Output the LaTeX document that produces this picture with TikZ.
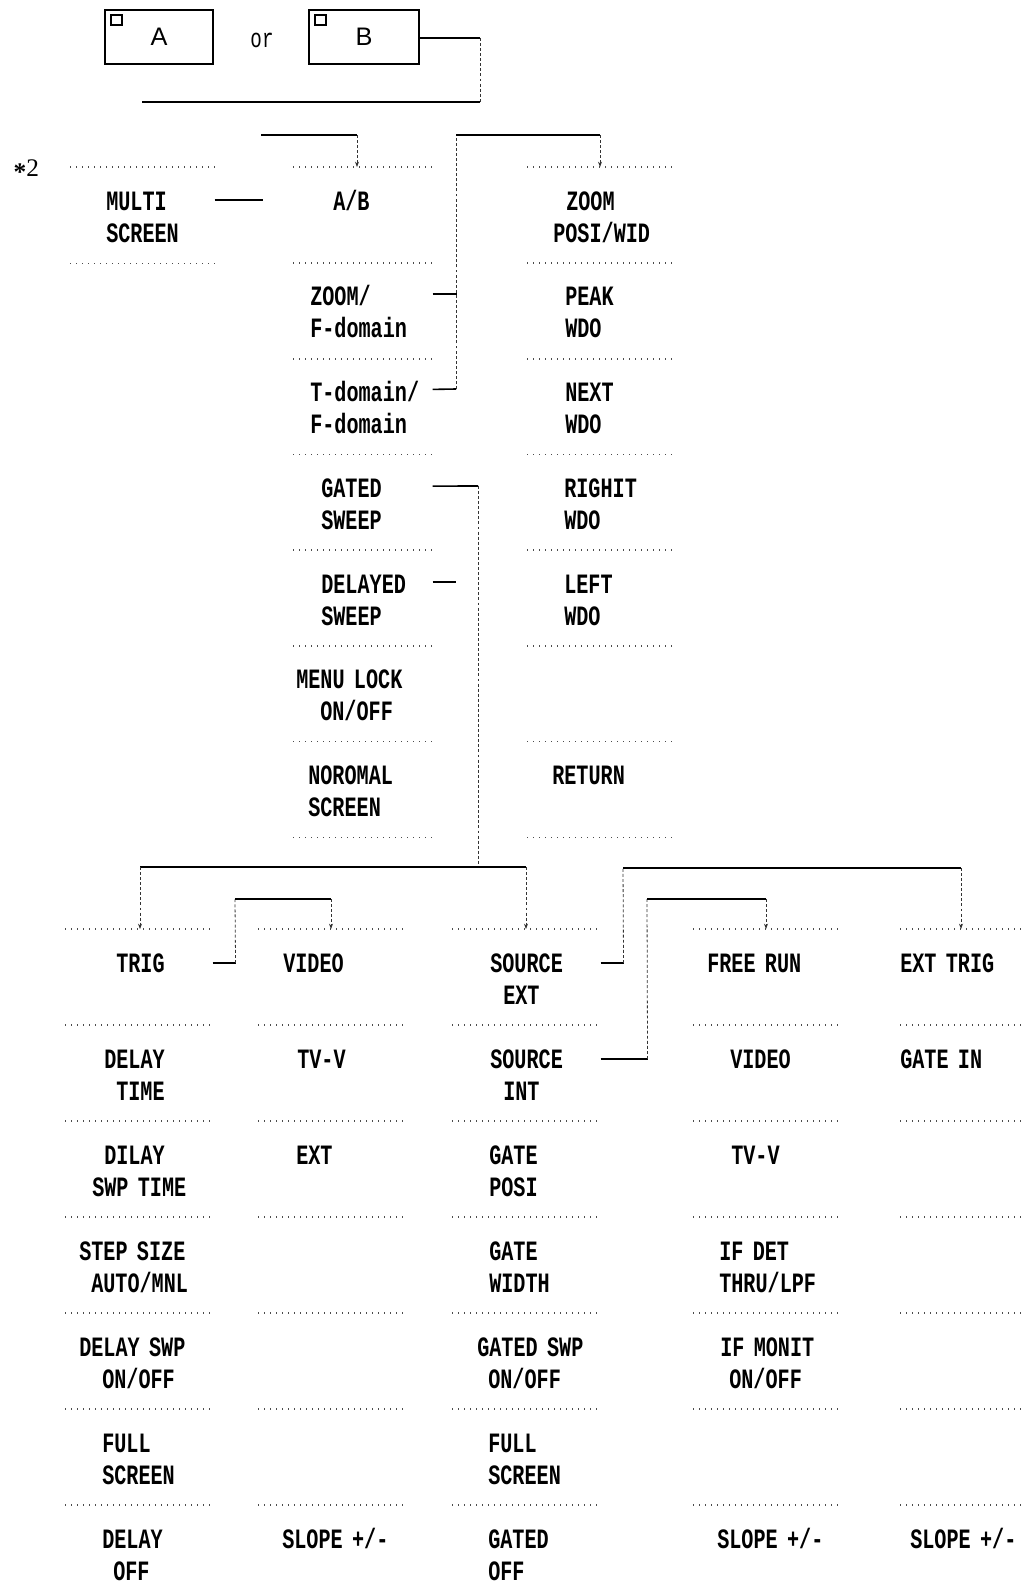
\documentclass[tikz,border=0pt]{standalone}
\usepackage{fontspec}
\usetikzlibrary{positioning,calc,arrows.meta}
\newfontfamily\menufont[FakeStretch=0.72]{Liberation Mono}
\newfontfamily\notefont{Liberation Serif}
\newfontfamily\keyfont{Liberation Sans}
\newlength\pxu
\setlength\pxu{0.75pt}
\newcommand{\lpad}[1]{\hspace*{#1\pxu}}

\begin{document}
\begin{tikzpicture}[x=0.75pt, y=-0.75pt,
  cell/.style={rectangle, anchor=north west, inner sep=0pt, align=left,
               text height=16.7pt, text depth=24pt,
               font=\menufont\bfseries\fontsize{21}{24}\selectfont},
  up/.style={cell, minimum height=71.8pt},
  lo/.style={cell, minimum height=72pt},
  key/.style={draw, line width=1.5pt, inner sep=0pt, minimum height=40.5pt,
              font=\keyfont\fontsize{19}{22}\selectfont},
  sep/.style={line width=0.8pt, dash pattern=on 0.8pt off 3.7pt, black!70},
  link/.style={line width=1.2pt},
  drop/.style={line width=0.6pt, dash pattern=on 2.2pt off 1.6pt, black!80},
  tip/.style={-{Stealth[length=4pt,width=3pt]}}]

\path[fill=white] (0,0) rectangle (1022,1595);
\useasboundingbox (0,0) rectangle (1022,1595);

% key boxes
\node[key, minimum width=81pt] (keya) at (159,37) {A};
\node[key, minimum width=82.5pt] (keyb) at (364,37) {B};
\draw[line width=1.1pt] ($(keya.north west)+(7,6)$) rectangle ++(11,10);
\draw[line width=1.1pt] ($(keyb.north west)+(7,6)$) rectangle ++(11,10);
\node[anchor=base, font=\menufont\fontsize{20}{22}\selectfont] (or) at (262,48) {or};
\node[anchor=base west, font=\notefont\fontsize{19}{22}\selectfont] (note) at (9,176) {\raisebox{-3pt}{\bfseries *}2};

% upper menus
\node[up, text width=108pt] (multi) at (70,167) {\lpad{36}MULTI\\\lpad{36}SCREEN};

\node[up, text width=104.25pt] (ab) at (293,167) {\lpad{40}A/B};
\node[up, text width=104.25pt] (zoomf) at (293,262.7) {\lpad{17}ZOOM/\\\lpad{17}F-domain};
\node[up, text width=104.25pt] (tdom) at (293,358.4) {\lpad{17}T-domain/\\\lpad{17}F-domain};
\node[up, text width=104.25pt] (gated) at (293,454.1) {\lpad{28}GATED\\\lpad{28}SWEEP};
\node[up, text width=104.25pt] (delayed) at (293,549.8) {\lpad{28}DELAYED\\\lpad{28}SWEEP};
\node[up, text width=104.25pt] (menulock) at (293,645.5) {\lpad{3}MENU~LOCK\\\lpad{27}ON/OFF};
\node[up, text width=104.25pt] (normal) at (293,741.2) {\lpad{15}NOROMAL\\\lpad{15}SCREEN};

\node[up, text width=108.75pt] (zoompos) at (527,167) {\lpad{39}ZOOM\\\lpad{26}POSI/WID};
\node[up, text width=108.75pt] (peak) at (527,262.7) {\lpad{38}PEAK\\\lpad{38}WDO};
\node[up, text width=108.75pt] (nextw) at (527,358.4) {\lpad{38}NEXT\\\lpad{38}WDO};
\node[up, text width=108.75pt] (rightw) at (527,454.1) {\lpad{37}RIGHIT\\\lpad{37}WDO};
\node[up, text width=108.75pt] (leftw) at (527,549.8) {\lpad{37}LEFT\\\lpad{37}WDO};
\node[up, text width=108.75pt] (blank) at (527,645.5) {};
\node[up, text width=108.75pt] (ret) at (527,741.2) {\lpad{25}RETURN};

% lower menus
\node[lo, text width=110.25pt] (trig) at (65,929) {\lpad{51}TRIG};
\node[lo, text width=110.25pt] (dtime) at (65,1025) {\lpad{39}DELAY\\\lpad{51}TIME};
\node[lo, text width=110.25pt] (dswptime) at (65,1121) {\lpad{39}DILAY\\\lpad{27}SWP~TIME};
\node[lo, text width=110.25pt] (stepsz) at (65,1217) {\lpad{14}STEP~SIZE\\\lpad{26}AUTO/MNL};
\node[lo, text width=110.25pt] (dswp) at (65,1313) {\lpad{14}DELAY~SWP\\\lpad{37}ON/OFF};
\node[lo, text width=110.25pt] (full1) at (65,1409) {\lpad{37}FULL\\\lpad{37}SCREEN};
\node[lo, text width=110.25pt] (doff) at (65,1505) {\lpad{37}DELAY\\\lpad{48}OFF};

\node[lo, text width=110.25pt] (video) at (258,929) {\lpad{25}VIDEO};
\node[lo, text width=110.25pt] (tvv) at (258,1025) {\lpad{39}TV-V};
\node[lo, text width=110.25pt] (ext) at (258,1121) {\lpad{38}EXT};
\node[lo, text width=110.25pt] (vb3) at (258,1217) {};
\node[lo, text width=110.25pt] (vb4) at (258,1313) {};
\node[lo, text width=110.25pt] (vb5) at (258,1409) {};
\node[lo, text width=110.25pt] (slopea) at (258,1505) {\lpad{24}SLOPE~+/-};

\node[lo, text width=111pt] (srcext) at (452,929) {\lpad{38}SOURCE\\\lpad{51}EXT};
\node[lo, text width=111pt] (srcint) at (452,1025) {\lpad{38}SOURCE\\\lpad{51}INT};
\node[lo, text width=111pt] (gpos) at (452,1121) {\lpad{37}GATE\\\lpad{37}POSI};
\node[lo, text width=111pt] (gwid) at (452,1217) {\lpad{37}GATE\\\lpad{37}WIDTH};
\node[lo, text width=111pt] (gswp) at (452,1313) {\lpad{25}GATED~SWP\\\lpad{36}ON/OFF};
\node[lo, text width=111pt] (full2) at (452,1409) {\lpad{36}FULL\\\lpad{36}SCREEN};
\node[lo, text width=111pt] (goff) at (452,1505) {\lpad{36}GATED\\\lpad{36}OFF};

\node[lo, text width=108.75pt] (free) at (693,929) {\lpad{14}FREE~RUN};
\node[lo, text width=108.75pt] (videob) at (693,1025) {\lpad{37}VIDEO};
\node[lo, text width=108.75pt] (tvvb) at (693,1121) {\lpad{38}TV-V};
\node[lo, text width=108.75pt] (ifdet) at (693,1217) {\lpad{26}IF~DET\\\lpad{26}THRU/LPF};
\node[lo, text width=108.75pt] (ifmon) at (693,1313) {\lpad{27}IF~MONIT\\\lpad{36}ON/OFF};
\node[lo, text width=108.75pt] (fb5) at (693,1409) {};
\node[lo, text width=108.75pt] (slopeb) at (693,1505) {\lpad{24}SLOPE~+/-};

\node[lo, text width=92pt] (exttrig) at (900,929) {EXT~TRIG};
\node[lo, text width=92pt] (gatein) at (900,1025) {GATE~IN};
\node[lo, text width=92pt] (eb2) at (900,1121) {};
\node[lo, text width=92pt] (eb3) at (900,1217) {};
\node[lo, text width=92pt] (eb4) at (900,1313) {};
\node[lo, text width=92pt] (eb5) at (900,1409) {};
\node[lo, text width=92pt] (slopec) at (900,1505) {\lpad{10}SLOPE~+/-};

% dotted rules
\foreach \c in {multi,ab,zoomf,tdom,gated,delayed,menulock,normal,
                zoompos,peak,nextw,rightw,leftw,blank,ret,
                trig,dtime,dswptime,stepsz,dswp,full1,doff,
                video,tvv,ext,vb3,vb4,vb5,slopea,
                srcext,srcint,gpos,gwid,gswp,full2,goff,
                free,videob,tvvb,ifdet,ifmon,fb5,slopeb,
                exttrig,gatein,eb2,eb3,eb4,eb5,slopec}
  \draw[sep] (\c.north west) -- (\c.north east) (\c.south west) -- (\c.south east);

% bends
\coordinate (t1) at (480,38);
\coordinate (t2) at (480,102);
\coordinate (t3) at (142,102);
\coordinate (a1) at (261,135);
\coordinate (a2) at (357,135);
\coordinate (z1) at (456,389);
\coordinate (z2) at (456,135);
\coordinate (z3) at (600,135);
\coordinate (g1) at (478,486);
\coordinate (g2) at (478,867);
\coordinate (b1) at (140,867);
\coordinate (b2) at (526,867);
\coordinate (v1) at (235,899);
\coordinate (v2) at (331,899);
\coordinate (s1) at (623,868);
\coordinate (s2) at (961,868);
\coordinate (n1) at (647,899);
\coordinate (n2) at (766,899);

% upper links
\draw[link] (keyb.east |- t1) -- (t1);
\draw[drop] (t1) -- (t2);
\draw[link] (t2) -- (t3);
\draw[link] ($(multi.north east)+(0,33)$) -- ++(48,0);
\draw[link] (a1) -- (a2);
\draw[drop, tip] (a2) -- (a2 |- ab.north);
\draw[link] ($(zoomf.north east)+(0,31)$) -- ++(24,0);
\draw[link] ($(tdom.north east)+(0,31)$) -- (z1);
\draw[drop] (z1) -- (z2);
\draw[link] (z2) -- (z3);
\draw[drop, tip] (z3) -- (z3 |- zoompos.north);
\draw[link] ($(gated.north east)+(0,32)$) -- (g1);
\draw[drop] (g1) -- (g2);
\draw[link] ($(delayed.north east)+(0,32)$) -- ++(23,0);

% lower links
\draw[link] (b1) -- (b2);
\draw[drop, tip] (b1) -- (b1 |- trig.north);
\draw[drop, tip] (b2) -- (b2 |- srcext.north);
\draw[link] ($(trig.north east)+(0,34)$) -- ++(23,0) coordinate (v0);
\draw[drop] (v0) -- (v1);
\draw[link] (v1) -- (v2);
\draw[drop, tip] (v2) -- (v2 |- video.north);
\draw[link] ($(srcext.north east)+(0,34)$) -- ++(23,0) coordinate (s0);
\draw[drop] (s0) -- (s1);
\draw[link] (s1) -- (s2);
\draw[drop, tip] (s2) -- (s2 |- exttrig.north);
\draw[link] ($(srcint.north east)+(0,34)$) -- ++(47,0) coordinate (n0);
\draw[drop] (n0) -- (n1);
\draw[link] (n1) -- (n2);
\draw[drop, tip] (n2) -- (n2 |- free.north);
\end{tikzpicture}
\end{document}
